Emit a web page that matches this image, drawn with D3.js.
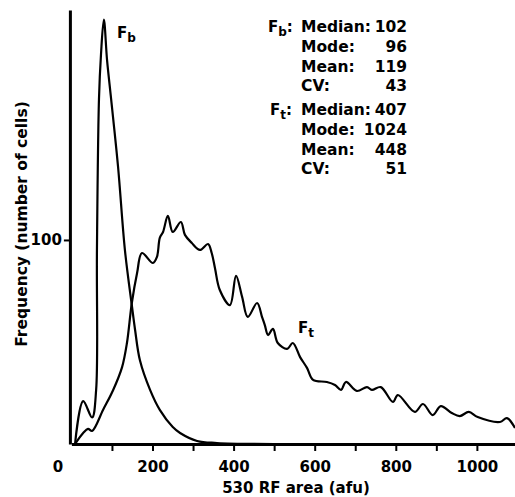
<!DOCTYPE html>
<html>
<head>
<meta charset="utf-8">
<script src="https://cdn.jsdelivr.net/npm/d3@7"></script>
<style>
  body { margin: 0; background: #fff; }
  svg { display: block; font-family: 'DejaVu Sans', sans-serif; font-weight: bold; }
  .curve { fill: none; stroke: #000; stroke-width: 2.2; stroke-linejoin: round; }
  .axis path, .axis line { stroke: #000; }
  .axis path { stroke-width: 3; }
  .axis line { stroke-width: 2; }
  .axis text { font-size: 15px; font-weight: bold; fill: #000; font-family: 'DejaVu Sans', sans-serif; }
</style>
</head>
<body>
<svg width="515" height="497"></svg>
<script>
// Fb curve (background)
const fbX = [9, 29, 51, 61, 63, 68, 73, 80, 88, 98, 115, 132, 149, 157, 169, 194, 218, 250, 268, 310, 359, 564]
const fbY = [0, 21, 13, 26.5, 95, 169, 191, 208, 188, 169, 136, 95, 68, 56, 41, 26.5, 16.7, 8.3, 5.4, 1.5, 0.5, 0]

// Ft curve (total)
const ftX = [9, 29, 41, 51, 78, 103, 125, 137, 149, 162, 174, 201, 211, 218, 226, 238, 250, 270, 280, 297,
  317, 337, 346, 354, 366, 391, 406, 421, 435, 458, 470, 477, 485, 497, 509, 532, 546, 564, 581, 596,
  630, 650, 665, 677, 704, 729, 741, 763, 793, 805, 847, 867, 891, 911, 938, 958, 980, 1002, 1057, 1074, 1094]
const ftY = [0, 5.4, 7.4, 6.4, 16.7, 26.5, 37.7, 49.5, 69.1, 83.8, 93.6, 88.7, 91.7, 101, 103.9, 111.8, 103.9, 108.8, 102.5, 98.5,
  95.1, 98, 93.6, 86.3, 75.5, 68.1, 82.4, 72.1, 62.3, 69.1, 62.3, 58.3, 53.4, 56.4, 49.5, 46.6, 49.5, 42.6, 37.3, 31.4,
  30.4, 28.9, 26.5, 30.4, 26, 27.9, 26.5, 27.9, 20.6, 24, 15.7, 19.6, 14.2, 18.6, 15.2, 13.7, 15.7, 13.2, 10.8, 12.7, 7.8]

const xTicks = d3.range(0, 1100, 100)
const xLabels = [0, 200, 400, 600, 800, 1000]
const yTicks = [100]

const statNames = ['Median:', 'Mode:', 'Mean:', 'CV:']
const fbStats = ['102', '96', '119', '43']
const ftStats = ['407', '1024', '448', '51']

const svg = d3.select('svg')

const x = d3.scaleLinear().domain([0, 1094]).range([71.4, 515])
const y = d3.scaleLinear().domain([0, 212.7]).range([444, 10])

const line = d3.line()
  .curve(d3.curveCatmullRom.alpha(0.5))
  .x(d => x(d[0]))
  .y(d => y(d[1]))

// axes
const gx = svg.append('g')
  .attr('class', 'axis')
  .attr('transform', 'translate(0,' + y(0) + ')')
  .call(d3.axisBottom(x)
    .tickValues(xTicks)
    .tickSize(7)
    .tickSizeOuter(0)
    .tickPadding(10)
    .tickFormat(d => xLabels.includes(d) ? d : ''))
gx.selectAll('.tick').filter(d => d === 0).select('line').remove()
gx.selectAll('.tick').filter(d => d === 0).select('text').attr('x', -14)

svg.append('g')
  .attr('class', 'axis')
  .attr('transform', 'translate(' + (x(0) - 1.5) + ',0)')
  .call(d3.axisLeft(y)
    .tickValues(yTicks)
    .tickSize(6)
    .tickSizeOuter(0)
    .tickPadding(2))

svg.append('text')
  .attr('x', 296)
  .attr('y', 493)
  .attr('text-anchor', 'middle')
  .style('font-size', '15px')
  .text('530 RF area (afu)')

svg.append('text')
  .attr('transform', 'translate(27,224) rotate(-90)')
  .attr('text-anchor', 'middle')
  .style('font-size', '15.5px')
  .text('Frequency (number of cells)')

// curves
svg.append('path')
  .attr('class', 'curve')
  .attr('d', line(d3.zip(fbX, fbY)))
svg.append('path')
  .attr('class', 'curve')
  .attr('d', line(d3.zip(ftX, ftY)))

// curve labels
function sublabel (g, px, py, sub, suffix) {
  const t = g.append('text').attr('x', px).attr('y', py).style('font-size', '15px')
  t.append('tspan').text('F')
  t.append('tspan').attr('dy', 4).style('font-size', '12px').text(sub)
  if (suffix) t.append('tspan').attr('dy', -4).text(suffix)
  return t
}
sublabel(svg, 117, 38, 'b')
sublabel(svg, 298, 333, 't')

// stats block
const groups = [
  {sub: 'b', vals: fbStats, x: 268, rows: [32, 52, 72, 91]},
  {sub: 't', vals: ftStats, x: 270, rows: [115, 135, 155, 174]}
]
groups.forEach(gr => {
  sublabel(svg, gr.x, gr.rows[0], gr.sub, ':')
  gr.rows.forEach((ry, i) => {
    svg.append('text')
      .attr('x', 301)
      .attr('y', ry)
      .style('font-size', '15.5px')
      .text(statNames[i])
    svg.append('text')
      .attr('x', 407)
      .attr('y', ry)
      .attr('text-anchor', 'end')
      .style('font-size', '15.5px')
      .text(gr.vals[i])
  })
})
</script>
</body>
</html>
